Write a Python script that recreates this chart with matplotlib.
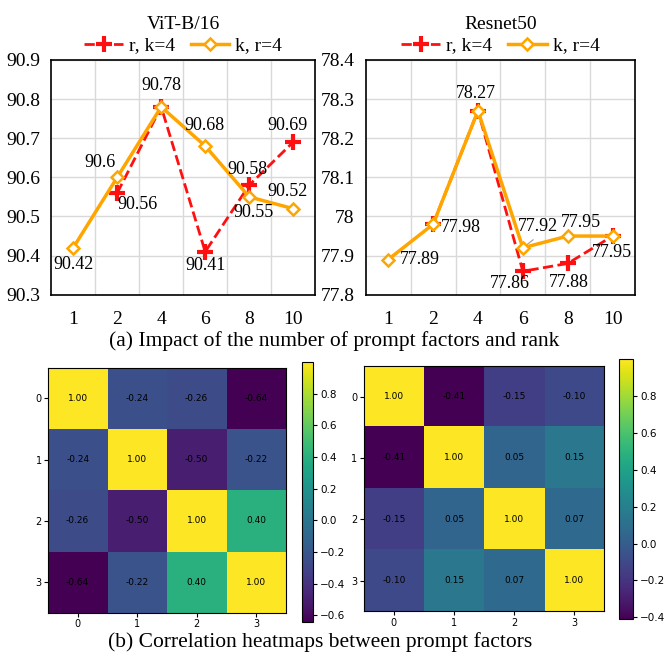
import numpy as np
import matplotlib
matplotlib.use("Agg")
from matplotlib import pyplot as plt
from matplotlib.ticker import FixedLocator, FormatStrFormatter

# data
x_labels = ["1", "2", "4", "6", "8", "10"]

vit_r = [np.nan, 90.56, 90.78, 90.41, 90.58, 90.69]   # r, k=4
vit_k = [90.42, 90.60, 90.78, 90.68, 90.55, 90.52]    # k, r=4
res_r = [np.nan, 77.98, 78.27, 77.86, 77.88, 77.95]
res_k = [77.89, 77.98, 78.27, 77.92, 77.95, 77.95]

vit_corr = [[1.00, -0.24, -0.26, -0.64],
            [-0.24, 1.00, -0.50, -0.22],
            [-0.26, -0.50, 1.00, 0.40],
            [-0.64, -0.22, 0.40, 1.00]]
res_corr = [[1.00, -0.41, -0.15, -0.10],
            [-0.41, 1.00, 0.05, 0.15],
            [-0.15, 0.05, 1.00, 0.07],
            [-0.10, 0.15, 0.07, 1.00]]

# label offsets in pixels (None = no label)
vit_r_off = [None, (20, -12), None, (0, -14), (-2, 16), (-6, 17)]
vit_k_off = [(0, -17), (-17, 15), (0, 21), (-1, 21), (4, -16), (-6, 17)]
res_r_off = [None, None, None, (-13, -12), (1, -19), None]
res_k_off = [(32, 0), (28, -3), (-2, 17), (15, 21), (13, 14), (-1, -16)]

RED = "#ff1010"
ORANGE = "#ffa500"
serif = "Liberation Serif"

fig = plt.figure(figsize=(6.65, 6.58), dpi=100)


def line_panel(rect, title, r_vals, k_vals, r_off, k_off, ylim, yticks):
    ax = fig.add_axes(rect)
    xs = np.arange(len(x_labels))
    ax.plot(xs, r_vals, color=RED, ls="--", lw=2, marker="+", ms=12, mew=3,
            label="r, k=4", zorder=3)
    ax.plot(xs, k_vals, color=ORANGE, lw=2.5, marker="D", ms=6, mfc="white",
            mec=ORANGE, mew=1.8, label="k, r=4", zorder=4)
    for vals, offs in ((r_vals, r_off), (k_vals, k_off)):
        for i, (v, off) in enumerate(zip(vals, offs)):
            if off is None:
                continue
            ax.annotate(f"{v:g}", (xs[i], v), xytext=off, textcoords="offset pixels",
                        ha="center", va="center", fontsize=13, family=serif, zorder=5)
    ax.set_xlim(-0.5, len(x_labels) - 0.5)
    ax.set_ylim(*ylim)
    ax.set_xticks(xs)
    ax.set_xticklabels(x_labels)
    ax.xaxis.set_minor_locator(FixedLocator(xs[:-1] + 0.5))
    ax.set_yticks(yticks)
    ax.yaxis.set_major_formatter(FormatStrFormatter("%g"))
    ax.grid(True, which="minor", axis="x", color="#d9d9d9", lw=1)
    ax.grid(True, which="major", axis="y", color="#d9d9d9", lw=1)
    ax.tick_params(which="both", length=0)
    ax.tick_params(axis="x", pad=12)
    ax.tick_params(axis="y", pad=8)
    for lab in ax.get_xticklabels() + ax.get_yticklabels():
        lab.set_fontfamily(serif)
        lab.set_fontsize(14)
    for s in ax.spines.values():
        s.set_linewidth(1.2)
    ax.set_title(title, family=serif, fontsize=14, pad=22)
    ax.legend(loc="lower center", bbox_to_anchor=(0.5, 0.99), ncol=2, frameon=False,
              prop={"family": serif, "size": 14}, handlelength=2.0, columnspacing=0.8,
              handletextpad=0.3, borderaxespad=0.0)
    return ax


vit_ax = line_panel([0.077, 0.552, 0.397, 0.357], "ViT-B/16", vit_r, vit_k,
                    vit_r_off, vit_k_off, (90.3, 90.9),
                    [90.3, 90.4, 90.5, 90.6, 90.7, 90.8, 90.9])
res_ax = line_panel([0.550, 0.552, 0.405, 0.357], "Resnet50", res_r, res_k,
                    res_r_off, res_k_off, (77.8, 78.4),
                    [77.8, 77.9, 78.0, 78.1, 78.2, 78.3, 78.4])
# thin leader line for the crowded 77.92 label
res_ax.annotate("", xy=(3, 77.92), xytext=(3.28, 77.945),
                arrowprops=dict(arrowstyle="-", color="#999999", lw=0.8))


def heat_panel(rect, cbar_rect, data, cticks):
    ax = fig.add_axes(rect)
    arr = np.array(data)
    im = ax.imshow(arr, cmap="viridis", aspect="auto")
    for i in range(arr.shape[0]):
        for j in range(arr.shape[1]):
            ax.text(j, i, f"{arr[i, j]:.2f}", ha="center", va="center",
                    fontsize=6.5, color="black")
    ax.set_xticks(range(arr.shape[1]))
    ax.set_yticks(range(arr.shape[0]))
    ax.tick_params(labelsize=7, length=3, pad=1.5)
    cax = fig.add_axes(cbar_rect)
    cb = fig.colorbar(im, cax=cax, ticks=cticks)
    cb.ax.tick_params(labelsize=7.5, length=3, pad=2)
    return ax


heat_panel([0.072, 0.069, 0.358, 0.372], [0.454, 0.055, 0.017, 0.395], vit_corr,
           [-0.6, -0.4, -0.2, 0.0, 0.2, 0.4, 0.6, 0.8])
heat_panel([0.547, 0.071, 0.362, 0.373], [0.931, 0.059, 0.021, 0.395], res_corr,
           [-0.4, -0.2, 0.0, 0.2, 0.4, 0.6, 0.8])

fig.text(0.503, 1 - 341 / 658, "(a) Impact of the number of prompt factors and rank",
         ha="center", va="center", family=serif, fontsize=15.5)
fig.text(0.482, 1 - 642 / 658, "(b) Correlation heatmaps between prompt factors",
         ha="center", va="center", family=serif, fontsize=15.5)

fig.savefig("out.png", dpi=100)
